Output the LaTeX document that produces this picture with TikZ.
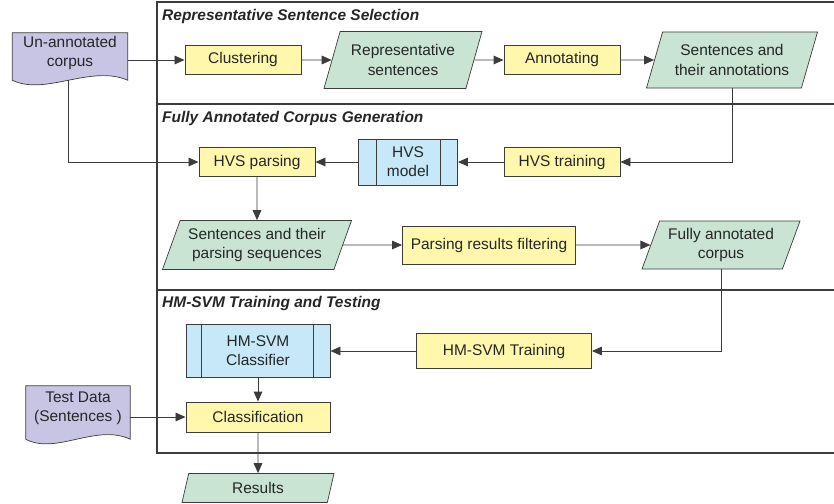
\documentclass[tikz,border=0pt]{standalone}
\usepackage{fontspec}
\setmainfont{Liberation Sans}
\usetikzlibrary{shapes.geometric,arrows.meta,calc,backgrounds}
\definecolor{procfill}{RGB}{255,247,172}
\definecolor{datafill}{RGB}{201,228,211}
\definecolor{docfill}{RGB}{200,196,228}
\definecolor{modelfill}{RGB}{198,232,248}
\definecolor{linegray}{RGB}{60,60,60}

\begin{document}
\begin{tikzpicture}[
            x=0.03cm, y=-0.03cm,
            font=\fontsize{13.2}{16.5}\selectfont,
            text=black!85,
            frame/.style={
                draw=linegray,
                line width=0.9pt
            },
            section/.style={
                anchor=west,
                inner sep=0pt,
                font=\fontsize{13.2}{16.5}\selectfont\bfseries\itshape
            },
            process/.style={
                rectangle,
                draw=linegray,
                line width=0.8pt,
                fill=procfill,
                minimum width=3.48cm,
                minimum height=0.87cm,
                inner sep=1pt,
                align=center
            },
            data/.style={
                trapezium,
                trapezium left angle=64,
                trapezium right angle=116,
                trapezium stretches body=true,
                draw=linegray,
                line width=0.6pt,
                fill=datafill,
                inner sep=1pt,
                align=center
            },
            model/.style={
                rectangle,
                draw=linegray,
                line width=0.8pt,
                fill=modelfill,
                align=center
            },
            doc/.style={
                rectangle,
                minimum width=3.45cm,
                minimum height=1.2cm,
                inner sep=0pt,
                align=center
            },
            docshape/.style={draw=linegray, line width=0.6pt, fill=docfill},
            arrow/.style={-{Triangle[length=3mm,width=2.6mm]}, draw=linegray, line width=0.8pt},
            bar/.style={draw=linegray, line width=0.8pt}
        ]
        
        % Page size
        \useasboundingbox (0,0) rectangle (834,504);
        
        % Outer frame and stage dividers
        \draw[frame] (157,2) rectangle (845,453);
        \draw[frame] (157,104) -- (845,104);
        \draw[frame] (157,290) -- (845,290);
        
        % Stage titles
        \node[section] (stage1) at (162,17) {Representative Sentence Selection};
        \node[section] (stage2) at (162,118) {Fully Annotated Corpus Generation};
        \node[section] (stage3) at (162,303) {HM-SVM Training and Testing};
        
        % Stage 1
        \node[doc] (corpus) at (70,53) {Un-annotated\\corpus};
        \node[process] (cluster) at (243,60) {Clustering};
        \node[data, minimum width=4.74cm, minimum height=1.71cm] (repsent) at (403,60) {Representative\\sentences};
        \node[process] (annot) at (562,60) {Annotating};
        \node[data, minimum width=5.13cm, minimum height=1.68cm] (sentannot) at (732,60) {Sentences and\\their annotations};
        
        % Stage 2
        \node[process] (hvsparse) at (257,162) {HVS parsing};
        \node[model, minimum width=2.97cm, minimum height=1.38cm] (hvsmodel) at (408,162) {HVS\\model};
        \node[process] (hvstrain) at (562,162) {HVS training};
        \node[data, minimum width=5.67cm, minimum height=1.47cm] (parseq) at (257,245) {Sentences and their\\parsing sequences};
        \node[process, minimum width=5.19cm, minimum height=1.14cm] (filter) at (489,245) {Parsing results filtering};
        \node[data, minimum width=4.74cm, minimum height=1.44cm] (fully) at (721,245) {Fully annotated\\corpus};
        
        % Stage 3
        \node[model, minimum width=4.32cm, minimum height=1.59cm] (classifier) at (258,351) {HM-SVM\\Classifier};
        \node[process, minimum width=5.25cm, minimum height=1.05cm] (hmtrain) at (504,351) {HM-SVM Training};
        \node[process, minimum width=4.32cm, minimum height=0.9cm] (classif) at (258,417) {Classification};
        \node[doc, minimum width=3.12cm, minimum height=1.32cm] (testdata) at (78,408) {Test Data\\(Sentences )};
        \node[data, minimum width=4.56cm, minimum height=0.87cm] (results) at (258,488) {Results};
        
        % Side bars of the model boxes
        \draw[bar] ([xshift=0.54cm]hvsmodel.north west) -- ([xshift=0.54cm]hvsmodel.south west);
        \draw[bar] ([xshift=-0.54cm]hvsmodel.north east) -- ([xshift=-0.54cm]hvsmodel.south east);
        \draw[bar] ([xshift=0.49cm]classifier.north west) -- ([xshift=0.49cm]classifier.south west);
        \draw[bar] ([xshift=-0.5cm]classifier.north east) -- ([xshift=-0.5cm]classifier.south east);
        
        % Document outlines behind their text
        \begin{scope}[on background layer]
        \draw[docshape] (corpus.north west) -- (corpus.north east) -- ($(corpus.south east)+(0,7)$) .. controls ($(corpus.south east)+(-37,-9)$) and ($(corpus.south west)+(33,23)$) .. ($(corpus.south west)+(0,7)$) coordinate[pos=0.5] (corpusout) -- cycle;
        \draw[docshape] (testdata.north west) -- (testdata.north east) -- ($(testdata.south east)+(0,9)$) .. controls ($(testdata.south east)+(-34,-7)$) and ($(testdata.south west)+(30,25)$) .. ($(testdata.south west)+(0,9)$) -- cycle;
        \end{scope}
        
        % Connecting arrows
        \draw[arrow] (corpus.east |- cluster.west) -- (cluster.west);
        \draw[arrow] (cluster.east) -- (repsent.west);
        \draw[arrow] (repsent.east) -- (annot.west);
        \draw[arrow] (annot.east) -- (sentannot.west);
        \draw[arrow] (sentannot.south) |- (hvstrain.east);
        \draw[arrow] (hvstrain.west) -- (hvsmodel.east);
        \draw[arrow] (hvsmodel.west) -- (hvsparse.east);
        \draw[arrow] (corpusout) |- (hvsparse.west);
        \draw[arrow] (hvsparse.south) -- (parseq.north);
        \draw[arrow] (parseq.east) -- (filter.west);
        \draw[arrow] (filter.east) -- (fully.west);
        \draw[arrow] (fully.south) |- (hmtrain.east);
        \draw[arrow] (hmtrain.west) -- (classifier.east);
        \draw[arrow] (classifier.south) -- (classif.north);
        \draw[arrow] (testdata.east |- classif.west) -- (classif.west);
        \draw[arrow] (classif.south) -- (results.north);
        
        \end{tikzpicture}
\end{document}
